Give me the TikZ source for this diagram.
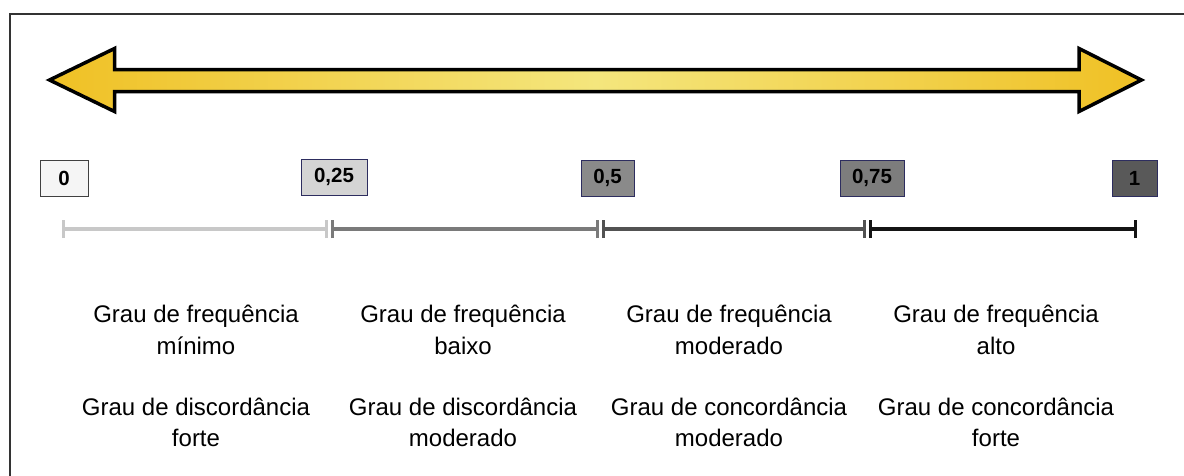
\documentclass[tikz,border=0pt]{standalone}
\usepackage{fontspec}
\setmainfont{Liberation Sans}
\definecolor{gA}{RGB}{196,150,45}
\definecolor{gB}{RGB}{240,194,40}
\definecolor{gC}{RGB}{244,230,125}
\definecolor{seg1}{RGB}{200,200,200}
\definecolor{seg2}{RGB}{122,122,122}
\definecolor{seg3}{RGB}{82,82,82}
\definecolor{seg4}{RGB}{20,20,20}
\definecolor{bordblue}{RGB}{45,45,95}
\pgfdeclarehorizontalshading{goldbar}{100bp}{color(0bp)=(gA); color(9bp)=(gA); color(26bp)=(gB); color(50bp)=(gC); color(74bp)=(gB); color(91bp)=(gA); color(100bp)=(gA)}
\tikzset{
  valbox/.style={draw=bordblue, line width=1pt, inner sep=0pt, minimum height=36pt, font=\fontsize{20.5}{20.5}\selectfont\bfseries},
  desc/.style={anchor=base, inner sep=0pt, font=\fontsize{24}{24}\selectfont},
  segline/.style={line width=4pt},
  tickmark/.style={line width=3pt},
}
\begin{document}
\begin{tikzpicture}[x=1pt,y=-1pt]
\useasboundingbox (0,0) rectangle (1184,475);
\fill[white] (0,0) rectangle (1184,475);
% frame
\draw[line width=2pt, black!80] (10,476) -- (10,14) -- (1185,14);
% double arrow
\path[shade, shading=goldbar, draw=black, line width=3.5pt, line join=miter]
  (49.5,80) -- (114.5,48.5) -- (114.5,69.5) -- (1079,69.5) -- (1079,48.5)
  -- (1141.5,80) -- (1079,111.5) -- (1079,91.5) -- (114.5,91.5) -- (114.5,111.5) -- cycle;
% value boxes
\node[valbox, fill=black!4, draw=black!75, minimum width=48pt] (v0) at (64,178) {0};
\node[valbox, fill=black!17, minimum width=66pt] (v25) at (334,177) {0,25};
\node[valbox, fill=black!46, minimum width=53pt] (v50) at (607.5,178) {0,5};
\node[valbox, fill=black!51, minimum width=64pt] (v75) at (872,178) {0,75};
\node[valbox, fill=black!65, minimum width=45pt] (v100) at (1134.5,178) {1};
% scale line
\coordinate (a0) at (63,229);
\coordinate (a1) at (326,229);
\coordinate (b0) at (332,229);
\coordinate (b1) at (597,229);
\coordinate (c0) at (603,229);
\coordinate (c1) at (864,229);
\coordinate (d0) at (870,229);
\coordinate (d1) at (1135,229);
\foreach \s/\e/\c in {a0/a1/seg1, b0/b1/seg2, c0/c1/seg3, d0/d1/seg4}{
  \draw[segline, \c] (\s) -- (\e);
  \draw[tickmark, \c] ([yshift=-9pt]\s) -- ([yshift=9pt]\s);
  \draw[tickmark, \c] ([yshift=-9pt]\e) -- ([yshift=9pt]\e);
}
% descriptions
\node[desc] (f1) at (196,322) {Grau de frequência};
\node[desc] (f1b) at (196,354) {mínimo};
\node[desc] (d1) at (196,415) {Grau de discordância};
\node[desc] (d1b) at (196,446) {forte};
\node[desc] (f2) at (463,322) {Grau de frequência};
\node[desc] (f2b) at (463,354) {baixo};
\node[desc] (d2) at (463,415) {Grau de discordância};
\node[desc] (d2b) at (463,446) {moderado};
\node[desc] (f3) at (729,322) {Grau de frequência};
\node[desc] (f3b) at (729,354) {moderado};
\node[desc] (d3) at (729,415) {Grau de concordância};
\node[desc] (d3b) at (729,446) {moderado};
\node[desc] (f4) at (996,322) {Grau de frequência};
\node[desc] (f4b) at (996,354) {alto};
\node[desc] (d4) at (996,415) {Grau de concordância};
\node[desc] (d4b) at (996,446) {forte};
\end{tikzpicture}
\end{document}
